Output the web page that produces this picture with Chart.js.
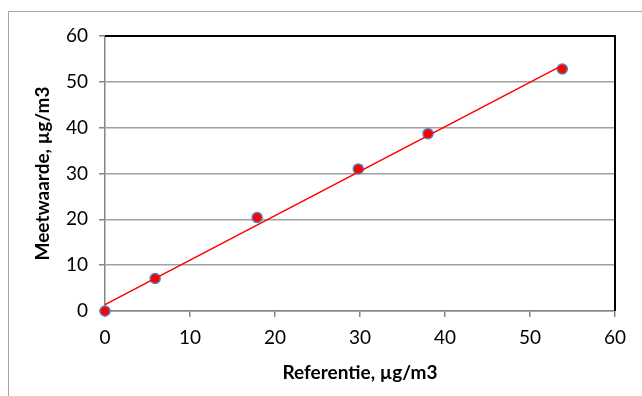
<!DOCTYPE html>
<html>
<head>
<meta charset="utf-8">
<script src="https://cdn.jsdelivr.net/npm/chart.js@4"></script>
<style>
    html, body { margin: 0; padding: 0; background: #fff; }
    #wrap { width: 642px; height: 396px; }
</style>
</head>
<body>
<div id="wrap"><canvas id="myScatterChart" width="642" height="396"></canvas></div>
<script>
var REFERENTIE = [0, 5.9, 17.9, 29.8, 38, 53.8];
var MEETWAARDE = [0, 7.1, 20.4, 31, 38.7, 52.8];
var TREND_X = [0, 53.8];
var TREND_Y = [1.4, 53.6];
var AXIS_TICKS = [0, 10, 20, 30, 40, 50, 60];

var FONT = 'Lato, "Open Sans", sans-serif';

function toPoints(xs, ys) {
    var result = [],
        i;
    for (i = 0; i < xs.length; i++) {
        result.push({ x: xs[i], y: ys[i] });
    }
    return result;
}

// outer frame + black top/right plot border
var framePlugin = {
    id: 'frame',
    beforeDraw: function (chart) {
        var ctx = chart.ctx;
        ctx.save();
        ctx.strokeStyle = '#a6a6a6';
        ctx.lineWidth = 1;
        ctx.beginPath();
        ctx.moveTo(8.5, 400);
        ctx.lineTo(8.5, 11.5);
        ctx.lineTo(650, 11.5);
        ctx.stroke();
        ctx.restore();
    },
    beforeDatasetsDraw: function (chart) {
        var ctx = chart.ctx,
            a = chart.chartArea;
        ctx.save();
        ctx.strokeStyle = '#000';
        ctx.lineWidth = 2;
        ctx.beginPath();
        ctx.moveTo(a.left, a.top);
        ctx.lineTo(a.right, a.top);
        ctx.lineTo(a.right, a.bottom);
        ctx.stroke();
        ctx.restore();
    }
};

var createScatter = function () {
    return new Chart(document.getElementById('myScatterChart').getContext('2d'), {
        type: 'scatter',
        data: {
            datasets: [{
                label: 'Meetwaarde',
                data: toPoints(REFERENTIE, MEETWAARDE),
                backgroundColor: '#ff0000',
                borderColor: '#4f81bd',
                borderWidth: 1.5,
                pointRadius: 5,
                clip: false,
                order: 2
            }, {
                label: 'Trend',
                data: toPoints(TREND_X, TREND_Y),
                showLine: true,
                borderColor: '#ff0000',
                borderWidth: 1.5,
                pointRadius: 0,
                fill: false,
                clip: false,
                order: 1
            }]
        },
        options: {
            responsive: false,
            animation: false,
            events: [],
            layout: { padding: { top: 36, right: 27, bottom: 0, left: 0 } },
            plugins: { legend: { display: false }, tooltip: { enabled: false } },
            scales: {
                x: {
                    type: 'linear',
                    min: 0,
                    max: 60,
                    afterFit: function (scale) { scale.height = 85; },
                    afterBuildTicks: function (scale) {
                        scale.ticks = AXIS_TICKS.map(function (v) { return { value: v }; });
                    },
                    border: { color: '#868686', width: 1.5 },
                    grid: { drawOnChartArea: false, drawTicks: true, tickLength: 6, color: '#868686', lineWidth: 1.5 },
                    ticks: { color: '#000', padding: 9, font: { family: FONT, size: 19 } },
                    title: {
                        display: true,
                        text: 'Referentie, µg/m3',
                        color: '#000',
                        padding: { top: 0, bottom: 12 },
                        font: { family: FONT, size: 19, weight: 'bold' }
                    }
                },
                y: {
                    type: 'linear',
                    min: 0,
                    max: 60,
                    afterFit: function (scale) { scale.width = 105; },
                    afterBuildTicks: function (scale) {
                        scale.ticks = AXIS_TICKS.map(function (v) { return { value: v }; });
                    },
                    border: { color: '#868686', width: 1.5 },
                    grid: { color: '#a0a0a0', lineWidth: 1.5, tickLength: 6, tickColor: '#868686' },
                    ticks: { color: '#000', padding: 11, font: { family: FONT, size: 19 } },
                    title: {
                        display: true,
                        text: 'Meetwaarde, µg/m3',
                        color: '#000',
                        padding: { top: 31, bottom: 0 },
                        font: { family: FONT, size: 19, weight: 'bold' }
                    }
                }
            }
        },
        plugins: [framePlugin]
    });
};

createScatter();
</script>
</body>
</html>
